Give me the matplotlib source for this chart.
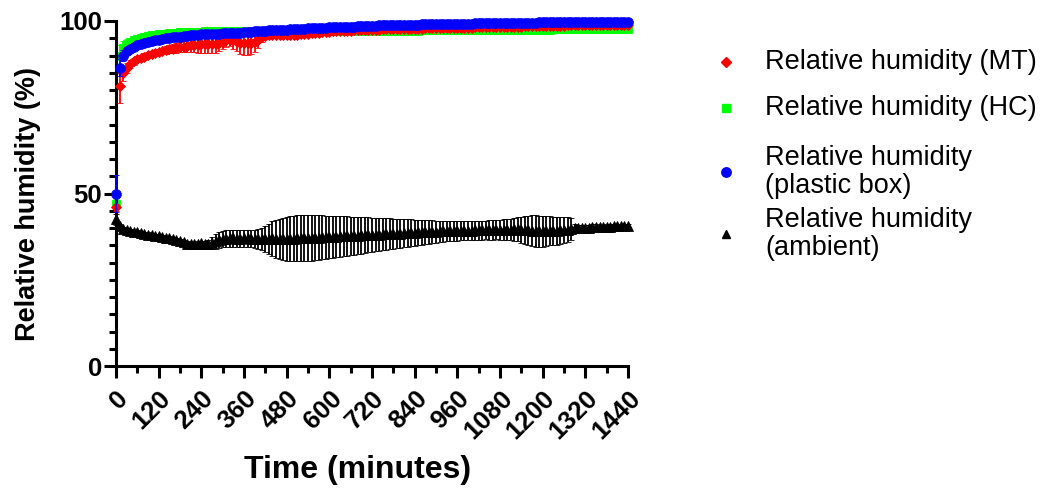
import numpy as np
import matplotlib
matplotlib.use("Agg")
import matplotlib.pyplot as plt
from matplotlib.lines import Line2D
from matplotlib.ticker import MultipleLocator

plt.rcParams['font.family'] = ['Liberation Sans', 'DejaVu Sans']

# ---------------- data (time in minutes, 10-min steps) ----------------
time_min = np.arange(0, 1441, 10)

x_ticks = [0, 120, 240, 360, 480, 600, 720, 840, 960, 1080, 1200, 1320, 1440]
y_ticks = [0, 50, 100]

labels = ["Relative humidity (MT)", "Relative humidity (HC)",
          "Relative humidity\n(plastic box)", "Relative humidity\n(ambient)"]

rh_mt = [
    46.0, 81.3, 84.8, 86.4, 87.5, 88.3, 88.9, 89.3, 89.7, 90.1,
    90.4, 90.7, 91.0, 91.3, 91.6, 91.8, 92.0, 92.2, 92.4, 92.6,
    92.8, 92.9, 93.0, 93.1, 93.2, 93.3, 93.3, 93.4, 93.4, 93.6,
    94.0, 94.4, 94.6, 94.4, 94.0, 93.7, 93.5, 93.5, 93.6, 94.0,
    94.6, 95.3, 95.7, 95.8, 95.8, 95.8, 95.8, 95.8, 95.9, 95.9,
    96.0, 96.0, 96.1, 96.2, 96.3, 96.4, 96.5, 96.6, 96.7, 96.8,
    96.9, 97.0, 97.0, 97.1, 97.1, 97.2, 97.2, 97.3, 97.3, 97.4,
    97.4, 97.4, 97.5, 97.5, 97.5, 97.6, 97.6, 97.6, 97.6, 97.7,
    97.7, 97.7, 97.7, 97.8, 97.8, 97.8, 97.8, 97.9, 97.9, 97.9,
    97.9, 98.0, 98.0, 98.0, 98.0, 98.0, 98.1, 98.1, 98.1, 98.1,
    98.1, 98.2, 98.2, 98.2, 98.2, 98.2, 98.2, 98.3, 98.3, 98.3,
    98.3, 98.3, 98.4, 98.4, 98.4, 98.5, 98.6, 98.6, 98.6, 98.6,
    98.6, 98.6, 98.6, 98.6, 98.6, 98.6, 98.6, 98.7, 98.7, 98.7,
    98.7, 98.7, 98.7, 98.7, 98.7, 98.7, 98.7, 98.7, 98.7, 98.7,
    98.7, 98.7, 98.7, 98.7, 98.7,
]
sd_mt = [
    1.0, 5.0, 2.2, 1.5, 1.2, 1.0, 0.9, 0.9, 0.9, 0.9,
    0.9, 0.9, 0.9, 1.0, 1.1, 1.2, 1.3, 1.4, 1.5, 1.6,
    1.7, 1.9, 2.1, 2.3, 2.5, 2.6, 2.6, 2.6, 2.6, 2.4,
    2.0, 1.8, 1.9, 2.4, 2.8, 3.2, 3.3, 3.3, 3.2, 3.0,
    2.5, 1.5, 0.8, 0.5, 0.5, 0.5, 0.5, 0.5, 0.5, 0.5,
    0.5, 0.5, 0.5, 0.5, 0.5, 0.5, 0.5, 0.5, 0.5, 0.5,
    0.5, 0.5, 0.5, 0.5, 0.5, 0.5, 0.5, 0.5, 0.5, 0.5,
    0.5, 0.5, 0.5, 0.5, 0.5, 0.5, 0.5, 0.5, 0.5, 0.5,
    0.5, 0.5, 0.5, 0.5, 0.5, 0.5, 0.5, 0.5, 0.5, 0.5,
    0.5, 0.5, 0.5, 0.5, 0.5, 0.5, 0.5, 0.5, 0.5, 0.5,
    0.5, 0.5, 0.5, 0.5, 0.5, 0.5, 0.5, 0.5, 0.5, 0.5,
    0.5, 0.5, 0.5, 0.5, 0.5, 0.5, 0.5, 0.5, 0.5, 0.5,
    0.5, 0.5, 0.5, 0.5, 0.5, 0.5, 0.5, 0.5, 0.5, 0.5,
    0.5, 0.5, 0.5, 0.5, 0.5, 0.5, 0.5, 0.5, 0.5, 0.5,
    0.5, 0.5, 0.5, 0.5, 0.5,
]

rh_hc = [
    47.0, 90.0, 92.3, 93.3, 93.9, 94.4, 94.8, 95.1, 95.4, 95.6,
    95.8, 96.0, 96.1, 96.2, 96.3, 96.4, 96.5, 96.6, 96.7, 96.7,
    96.8, 96.8, 96.9, 96.9, 96.9, 97.0, 97.0, 97.0, 97.0, 97.0,
    97.0, 97.0, 97.0, 97.0, 97.0, 97.0, 97.0, 97.0, 97.0, 97.0,
    97.0, 97.0, 97.0, 97.0, 97.0, 97.0, 97.0, 97.0, 97.0, 97.0,
    97.0, 97.0, 97.0, 97.0, 97.0, 97.0, 97.0, 97.0, 97.0, 97.0,
    97.0, 97.0, 97.0, 97.0, 97.0, 97.0, 97.0, 97.0, 97.0, 97.0,
    97.0, 97.1, 97.1, 97.1, 97.1, 97.1, 97.1, 97.1, 97.2, 97.2,
    97.2, 97.2, 97.2, 97.2, 97.2, 97.2, 97.3, 97.3, 97.3, 97.3,
    97.3, 97.3, 97.3, 97.3, 97.3, 97.3, 97.3, 97.3, 97.3, 97.3,
    97.3, 97.3, 97.4, 97.4, 97.4, 97.4, 97.4, 97.4, 97.4, 97.4,
    97.4, 97.4, 97.5, 97.5, 97.5, 97.5, 97.5, 97.5, 97.5, 97.5,
    97.5, 97.5, 97.5, 97.6, 97.6, 97.6, 97.6, 97.6, 97.6, 97.6,
    97.6, 97.6, 97.6, 97.6, 97.6, 97.6, 97.6, 97.6, 97.6, 97.6,
    97.6, 97.6, 97.6, 97.6, 97.6,
]
sd_hc = [
    1.5, 3.0, 2.0, 1.5, 1.2, 1.2, 1.2, 1.2, 1.2, 1.2,
    1.2, 1.2, 1.2, 1.2, 1.2, 1.2, 1.2, 1.2, 1.2, 1.2,
    1.2, 1.0, 1.0, 1.0, 1.0, 1.0, 1.0, 1.0, 1.0, 1.0,
    1.0, 1.0, 1.0, 1.0, 1.0, 1.0, 1.0, 1.0, 1.0, 1.0,
    1.0, 1.0, 1.0, 1.0, 1.0, 1.0, 1.0, 1.0, 1.0, 1.0,
    1.0, 1.0, 1.0, 1.0, 1.0, 1.0, 1.0, 1.0, 1.0, 1.0,
    1.0, 1.0, 1.0, 1.0, 1.0, 1.0, 1.0, 1.0, 1.0, 1.0,
    1.0, 0.8, 0.8, 0.8, 0.8, 0.8, 0.8, 0.8, 0.8, 0.8,
    0.8, 0.8, 0.8, 0.8, 0.8, 0.8, 0.8, 0.8, 0.8, 0.8,
    0.8, 0.8, 0.8, 0.8, 0.8, 0.8, 0.8, 0.8, 0.8, 0.8,
    0.8, 0.8, 0.8, 0.8, 0.8, 0.8, 0.8, 0.8, 0.8, 0.8,
    0.8, 0.8, 0.8, 0.8, 0.8, 0.8, 0.8, 0.8, 0.8, 0.8,
    0.8, 0.8, 0.8, 0.8, 0.8, 0.8, 0.8, 0.8, 0.8, 0.8,
    0.8, 0.8, 0.8, 0.8, 0.8, 0.8, 0.8, 0.8, 0.8, 0.8,
    0.8, 0.8, 0.8, 0.8, 0.8,
]

rh_box = [
    50.0, 86.5, 90.0, 91.2, 92.0, 92.6, 93.0, 93.4, 93.7, 94.0,
    94.2, 94.4, 94.6, 94.8, 95.0, 95.1, 95.3, 95.4, 95.5, 95.6,
    95.7, 95.8, 95.9, 96.0, 96.1, 96.1, 96.2, 96.2, 96.3, 96.3,
    96.4, 96.4, 96.5, 96.5, 96.6, 96.6, 96.7, 96.8, 96.9, 97.0,
    97.1, 97.1, 97.2, 97.3, 97.3, 97.4, 97.4, 97.5, 97.5, 97.6,
    97.7, 97.7, 97.8, 97.8, 97.9, 97.9, 98.0, 98.0, 98.1, 98.1,
    98.2, 98.2, 98.3, 98.3, 98.3, 98.4, 98.4, 98.4, 98.5, 98.5,
    98.5, 98.6, 98.6, 98.6, 98.7, 98.7, 98.7, 98.7, 98.8, 98.8,
    98.8, 98.8, 98.9, 98.9, 98.9, 98.9, 99.0, 99.0, 99.0, 99.0,
    99.0, 99.1, 99.1, 99.1, 99.1, 99.1, 99.2, 99.2, 99.2, 99.2,
    99.2, 99.3, 99.3, 99.3, 99.3, 99.3, 99.3, 99.4, 99.4, 99.4,
    99.4, 99.4, 99.4, 99.5, 99.5, 99.5, 99.5, 99.5, 99.5, 99.6,
    99.6, 99.6, 99.6, 99.6, 99.6, 99.7, 99.7, 99.7, 99.7, 99.7,
    99.7, 99.7, 99.7, 99.8, 99.8, 99.8, 99.8, 99.8, 99.8, 99.8,
    99.8, 99.8, 99.8, 99.8, 99.8,
]
sd_box = [
    5.5, 2.5, 1.5, 1.0, 0.8, 0.8, 0.8, 0.8, 0.8, 0.8,
    0.8, 0.8, 0.8, 0.8, 0.8, 0.8, 0.8, 0.8, 0.8, 0.8,
    0.8, 0.5, 0.5, 0.5, 0.5, 0.5, 0.5, 0.5, 0.5, 0.5,
    0.5, 0.5, 0.5, 0.5, 0.5, 0.5, 0.5, 0.5, 0.5, 0.5,
    0.5, 0.5, 0.5, 0.5, 0.5, 0.5, 0.5, 0.5, 0.5, 0.5,
    0.5, 0.5, 0.5, 0.5, 0.5, 0.5, 0.5, 0.5, 0.5, 0.5,
    0.5, 0.5, 0.5, 0.5, 0.5, 0.5, 0.5, 0.5, 0.5, 0.5,
    0.5, 0.5, 0.5, 0.5, 0.5, 0.5, 0.5, 0.5, 0.5, 0.5,
    0.5, 0.5, 0.5, 0.5, 0.5, 0.5, 0.5, 0.5, 0.5, 0.5,
    0.5, 0.5, 0.5, 0.5, 0.5, 0.5, 0.5, 0.5, 0.5, 0.5,
    0.5, 0.5, 0.5, 0.5, 0.5, 0.5, 0.5, 0.5, 0.5, 0.5,
    0.5, 0.5, 0.5, 0.5, 0.5, 0.5, 0.5, 0.5, 0.5, 0.5,
    0.5, 0.5, 0.5, 0.5, 0.5, 0.5, 0.5, 0.5, 0.5, 0.5,
    0.5, 0.5, 0.5, 0.5, 0.5, 0.5, 0.5, 0.5, 0.5, 0.5,
    0.5, 0.5, 0.5, 0.5, 0.5,
]

rh_amb = [
    42.5, 40.5, 39.8, 39.4, 39.1, 38.9, 38.7, 38.5, 38.3, 38.1,
    37.9, 37.8, 37.6, 37.4, 37.2, 37.0, 36.7, 36.4, 36.1, 35.8,
    35.5, 35.3, 35.3, 35.5, 35.6, 35.5, 35.4, 35.6, 36.2, 36.6,
    36.8, 36.9, 37.0, 37.0, 36.9, 36.9, 37.0, 37.0, 36.9, 36.9,
    36.8, 36.8, 36.9, 36.9, 37.0, 36.9, 36.8, 36.8, 36.8, 36.9,
    36.9, 37.0, 37.0, 37.1, 37.1, 37.1, 37.2, 37.2, 37.3, 37.3,
    37.4, 37.5, 37.5, 37.6, 37.6, 37.7, 37.7, 37.8, 37.8, 37.9,
    37.9, 38.0, 38.0, 38.1, 38.1, 38.2, 38.2, 38.3, 38.3, 38.4,
    38.4, 38.5, 38.5, 38.6, 38.6, 38.7, 38.8, 38.8, 38.9, 38.9,
    38.9, 39.0, 39.0, 39.0, 39.1, 39.1, 39.1, 39.2, 39.2, 39.2,
    39.2, 39.3, 39.3, 39.3, 39.4, 39.4, 39.4, 39.5, 39.5, 39.5,
    39.5, 39.5, 39.6, 39.6, 39.5, 39.4, 39.3, 39.2, 39.1, 39.0,
    39.0, 39.1, 39.2, 39.2, 39.2, 39.3, 39.4, 39.5, 39.7, 39.9,
    40.0, 40.0, 40.1, 40.1, 40.2, 40.2, 40.3, 40.3, 40.4, 40.4,
    40.5, 40.5, 40.6, 40.6, 40.6,
]
sd_amb = [
    1.5, 0.8, 0.6, 0.6, 0.6, 0.6, 0.6, 0.6, 0.6, 0.6,
    0.6, 0.6, 0.6, 0.6, 0.6, 0.6, 0.6, 0.6, 0.6, 0.6,
    0.6, 0.6, 0.6, 0.6, 0.6, 0.6, 1.0, 1.8, 2.2, 2.3,
    2.3, 2.4, 2.4, 2.4, 2.4, 2.4, 2.5, 2.5, 2.5, 2.6,
    2.8, 3.2, 3.8, 4.4, 5.0, 5.5, 5.9, 6.2, 6.4, 6.5,
    6.6, 6.7, 6.7, 6.7, 6.7, 6.6, 6.6, 6.5, 6.4, 6.3,
    6.2, 6.1, 6.0, 5.9, 5.8, 5.7, 5.6, 5.5, 5.4, 5.3,
    5.2, 5.1, 5.0, 4.9, 4.8, 4.7, 4.6, 4.5, 4.4, 4.3,
    4.2, 4.1, 4.0, 3.9, 3.8, 3.7, 3.6, 3.5, 3.4, 3.3,
    3.2, 3.1, 3.0, 2.9, 2.9, 2.8, 2.8, 2.7, 2.7, 2.7,
    2.7, 2.7, 2.7, 2.7, 2.7, 2.8, 2.8, 2.8, 2.9, 3.0,
    3.0, 3.1, 3.3, 3.5, 3.8, 4.1, 4.3, 4.5, 4.6, 4.6,
    4.5, 4.3, 4.2, 4.1, 4.0, 3.9, 3.8, 3.6, 3.2, 1.2,
    0.9, 0.9, 0.9, 0.9, 0.9, 0.9, 0.7, 0.7, 0.7, 0.7,
    0.7, 0.5, 0.5, 0.5, 0.5,
]

for arr in (rh_mt, sd_mt, rh_hc, sd_hc, rh_box, sd_box, rh_amb, sd_amb):
    assert len(arr) == len(time_min), len(arr)

# ---------------- figure ----------------
W, H = 1052, 488
fig = plt.figure(figsize=(W / 100, H / 100), dpi=100)
ax = fig.add_axes([116 / W, 1 - 366 / H, 512 / W, 345 / H])

styles = [
    # (mean, sd, marker, ms, color, zorder)
    (rh_hc, sd_hc, 's', 6.2, '#00FF00', 2),
    (rh_mt, sd_mt, 'D', 5.4, '#FF0000', 3),
    (rh_box, sd_box, 'o', 7.0, '#0000FF', 4),
    (rh_amb, sd_amb, '^', 7.2, '#000000', 5),
]
for mean, sd, mk, ms, col, z in styles:
    cont = ax.errorbar(time_min, mean, yerr=sd, fmt=mk, ms=ms, color=col,
                       mec=col, mfc=col, mew=0.6, elinewidth=1.3,
                       capsize=2.5, capthick=1.5, zorder=z)
    for art in cont.get_children():
        art.set_clip_on(False)
        art.set_zorder(z)

ax.set_xlim(0, 1440)
ax.set_ylim(0, 100)
for s in ('top', 'right'):
    ax.spines[s].set_visible(False)
for s in ('left', 'bottom'):
    ax.spines[s].set_linewidth(2.2)
ax.spines['left'].set_bounds(0, 100)
ax.spines['bottom'].set_bounds(0, 1440)

ax.set_xticks(x_ticks)
ax.set_yticks(y_ticks)
ax.xaxis.set_minor_locator(MultipleLocator(60))
ax.yaxis.set_minor_locator(MultipleLocator(5))
ax.tick_params(which='major', length=8.5, width=2.2, direction='out')
ax.tick_params(which='minor', length=5, width=2.2, direction='out')
ax.set_yticklabels([str(v) for v in y_ticks], fontsize=18.5, fontweight='bold')
ax.set_xticklabels([str(v) for v in x_ticks], fontsize=18.5, fontweight='bold',
                   rotation=45, ha='right', va='top', rotation_mode='anchor')
ax.tick_params(axis='y', pad=1.5)
ax.tick_params(axis='x', pad=6)

fig.text(358 / W, 1 - 470 / H, 'Time (minutes)', ha='center', va='center',
         fontsize=23, fontweight='bold')
fig.text(28 / W, 1 - 204 / H, 'Relative humidity (%)', ha='center',
         va='center', rotation=90, fontsize=19.5, fontweight='bold')

# ---------------- legend ----------------
leg_markers = [('D', 4.6, '#FF0000'), ('s', 5.8, '#00FF00'),
               ('o', 6.8, '#0000FF'), ('^', 6.0, '#000000')]
leg_y = [62, 108, 172, 234]
for (mk, ms, col), lab, yy in zip(leg_markers, labels, leg_y):
    fig.add_artist(Line2D([726 / W], [1 - yy / H], marker=mk, ms=ms,
                          color=col, mec=col, lw=0,
                          transform=fig.transFigure))
    fig.text(765 / W, 1 - yy / H, lab, ha='left', va='center',
             fontsize=19.5, linespacing=1.1)

fig.savefig('out.png', dpi=100)
